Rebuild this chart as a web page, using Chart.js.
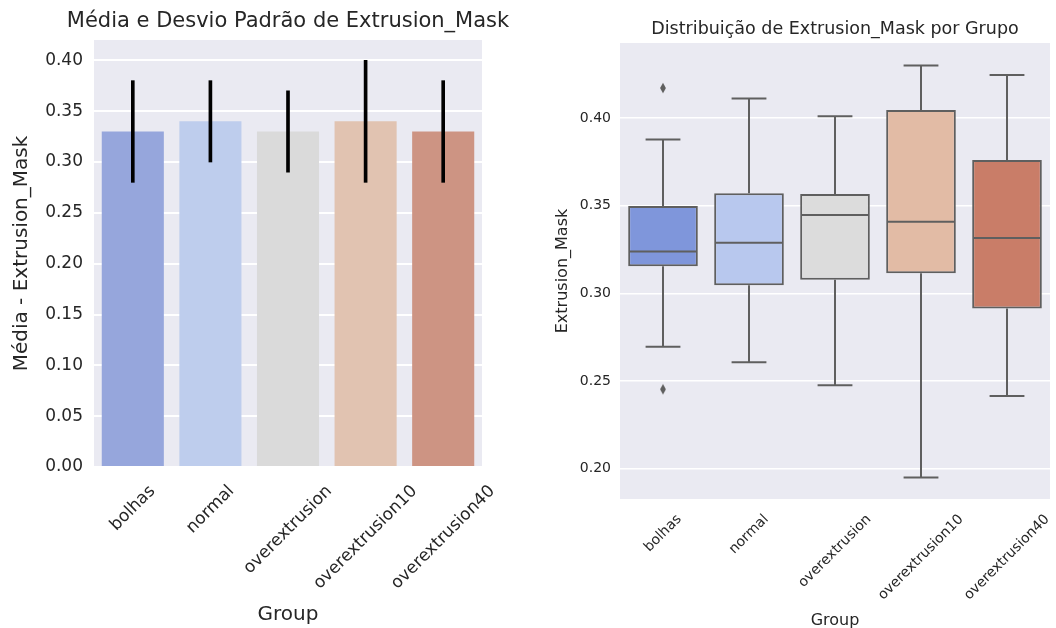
<!DOCTYPE html>
<html>
<head>
<meta charset="utf-8">
<script src="https://cdn.jsdelivr.net/npm/chart.js@4.4.1/dist/chart.umd.min.js"></script>
<style>
  html, body { margin: 0; padding: 0; background: #ffffff; }
  #wrap { position: relative; width: 1056px; height: 628px; overflow: hidden; }
  #meanChart { position: absolute; left: 0; top: 0; }
  #boxChart { position: absolute; left: 530px; top: 0; }
</style>
</head>
<body>
<div id="wrap">
  <canvas id="meanChart" width="530" height="628"></canvas>
  <canvas id="boxChart" width="526" height="628"></canvas>
</div>
<script>
// Groups shared by both panels
const groups = ['bolhas', 'normal', 'overextrusion', 'overextrusion10', 'overextrusion40'];

// Mean and standard deviation of Extrusion_Mask per group
const means = [0.33, 0.34, 0.33, 0.34, 0.33];
const stdDevs = [0.05, 0.04, 0.04, 0.06, 0.05];

// Box-plot summary per group
const whiskerLow  = [0.2695, 0.2607, 0.2476, 0.1949, 0.2415];
const quartile1   = [0.3155, 0.3046, 0.3077, 0.3115, 0.2913];
const medians     = [0.3239, 0.3289, 0.3447, 0.3409, 0.3316];
const quartile3   = [0.3498, 0.3571, 0.3567, 0.4046, 0.3760];
const whiskerHigh = [0.3878, 0.4112, 0.4010, 0.4300, 0.4245];

// Points beyond the whiskers
const outlierGroups = ['bolhas', 'bolhas'];
const outlierValues = [0.4171, 0.2453];

// Y-axis tick values
const meanTicks = [0.00, 0.05, 0.10, 0.15, 0.20, 0.25, 0.30, 0.35, 0.40];
const boxTicks = [0.20, 0.25, 0.30, 0.35, 0.40];

// Colours
const barColors = ['#96a6dc', '#becded', '#dadada', '#e1c3b1', '#cd9483'];
const boxColors = ['#7f96db', '#b8c8ee', '#dcdcdc', '#e2bba5', '#c97d68'];
const edgeColor = '#5f5f5f';
const textColor = '#262626';
const panelBg = '#eaeaf2';
const FONT = '"DejaVu Sans", "Liberation Sans", sans-serif';

Chart.defaults.font.family = FONT;
Chart.defaults.color = textColor;

// Fills the plotting area with the grey panel colour
const panelBackground = {
  id: 'panelBackground',
  beforeDraw(chart) {
    const { ctx, chartArea: a } = chart;
    ctx.save();
    ctx.fillStyle = panelBg;
    ctx.fillRect(a.left, a.top, a.right - a.left, a.bottom - a.top);
    ctx.restore();
  }
};

// Title centred over the plotting area, allowed to run wider than it
function centredTitle(text, size, y) {
  return {
    id: 'centredTitle',
    afterDraw(chart) {
      const { ctx, chartArea: a } = chart;
      ctx.save();
      ctx.font = size + 'px ' + FONT;
      ctx.fillStyle = textColor;
      ctx.textAlign = 'center';
      ctx.textBaseline = 'middle';
      ctx.fillText(text, (a.left + a.right) / 2, y);
      ctx.restore();
    }
  };
}

// Category labels rotated 45 degrees and centred under each tick
function rotatedLabels(size, gap) {
  return {
    id: 'rotatedLabels',
    afterDraw(chart) {
      const { ctx, scales: { x } } = chart;
      ctx.save();
      ctx.font = size + 'px ' + FONT;
      ctx.fillStyle = textColor;
      ctx.textAlign = 'center';
      ctx.textBaseline = 'middle';
      const h = size * 1.164;
      chart.data.labels.forEach((label, i) => {
        const w = ctx.measureText(label).width;
        const cx = x.getPixelForValue(i);
        const cy = x.top + gap + (w + h) * Math.SQRT1_2 / 2;
        ctx.save();
        ctx.translate(cx, cy);
        ctx.rotate(-Math.PI / 4);
        ctx.fillText(label, 0, 0);
        ctx.restore();
      });
      ctx.restore();
    }
  };
}

// Whiskers, caps and median lines for each box
const boxLines = {
  id: 'boxLines',
  afterDatasetsDraw(chart) {
    const { ctx, scales: { y } } = chart;
    const boxes = chart.getDatasetMeta(1).data;
    const line = (x1, y1, x2, y2) => {
      ctx.beginPath(); ctx.moveTo(x1, y1); ctx.lineTo(x2, y2); ctx.stroke();
    };
    ctx.save();
    ctx.strokeStyle = edgeColor;
    ctx.lineWidth = 2;
    boxes.forEach((bar, i) => {
      const cx = bar.x;
      const half = bar.width / 2;
      const cap = half / 2;
      const yHi = y.getPixelForValue(whiskerHigh[i]);
      const yLo = y.getPixelForValue(whiskerLow[i]);
      const yQ1 = y.getPixelForValue(quartile1[i]);
      const yQ3 = y.getPixelForValue(quartile3[i]);
      const yMed = y.getPixelForValue(medians[i]);
      line(cx, yHi, cx, yQ3);
      line(cx, yQ1, cx, yLo);
      line(cx - cap, yHi, cx + cap, yHi);
      line(cx - cap, yLo, cx + cap, yLo);
      line(cx - half + 1, yMed, cx + half - 1, yMed);
    });
    ctx.restore();
  }
};

// Thin diamond marker for outliers
function thinDiamond(color) {
  const c = document.createElement('canvas');
  c.width = 8; c.height = 12;
  const g = c.getContext('2d');
  g.fillStyle = color;
  g.beginPath();
  g.moveTo(4, 0.8); g.lineTo(6.9, 6); g.lineTo(4, 11.2); g.lineTo(1.1, 6);
  g.closePath();
  g.fill();
  return c;
}

// Left panel: mean bars with standard-deviation error bars
new Chart(document.getElementById('meanChart'), {
  type: 'bar',
  data: {
    labels: groups,
    datasets: [
      {
        label: 'Desvio Padrão',
        data: means.map((m, i) => [m - stdDevs[i], m + stdDevs[i]]),
        backgroundColor: '#000000',
        barThickness: 3,
        grouped: false,
        order: 0
      },
      {
        label: 'Média',
        data: means,
        backgroundColor: barColors,
        borderWidth: 0,
        barPercentage: 0.8,
        categoryPercentage: 1,
        grouped: false,
        order: 1
      }
    ]
  },
  options: {
    responsive: false,
    animation: false,
    events: [],
    layout: { padding: { left: 0, right: 48, top: 40, bottom: 0 } },
    plugins: {
      legend: { display: false },
      tooltip: { enabled: false },
      title: { display: false }
    },
    scales: {
      x: {
        type: 'category',
        grid: { display: false },
        border: { display: false },
        ticks: { display: false },
        title: {
          display: true,
          text: 'Group',
          color: textColor,
          font: { size: 20 },
          padding: { top: 0, bottom: 1 }
        },
        afterFit: s => { s.height = 161; }
      },
      y: {
        min: 0,
        max: 0.42,
        afterBuildTicks: s => { s.ticks = meanTicks.map(v => ({ value: v })); },
        grid: { color: '#ffffff', lineWidth: 2, drawTicks: false },
        border: { display: false },
        ticks: { padding: 11, font: { size: 17 }, color: textColor, callback: v => v.toFixed(2) },
        title: {
          display: true,
          text: 'Média - Extrusion_Mask',
          color: textColor,
          font: { size: 20 },
          padding: { top: 9.5, bottom: 0 }
        },
        afterFit: s => { s.width = 94; }
      }
    }
  },
  plugins: [
    panelBackground,
    rotatedLabels(17, 14.5),
    centredTitle('Média e Desvio Padrão de Extrusion_Mask', 21, 21.5)
  ]
});

// Right panel: box plots with outliers
new Chart(document.getElementById('boxChart'), {
  type: 'bar',
  data: {
    labels: groups,
    datasets: [
      {
        type: 'scatter',
        label: 'Outliers',
        data: outlierGroups.map((g, i) => ({ x: g, y: outlierValues[i] })),
        pointStyle: thinDiamond(edgeColor),
        pointRadius: 5,
        order: 0
      },
      {
        label: 'Extrusion_Mask',
        data: quartile1.map((q, i) => [q, quartile3[i]]),
        backgroundColor: boxColors,
        borderColor: edgeColor,
        borderWidth: 2,
        borderSkipped: false,
        barPercentage: 0.81,
        categoryPercentage: 1,
        grouped: false,
        order: 1
      }
    ]
  },
  options: {
    responsive: false,
    animation: false,
    events: [],
    layout: { padding: { left: 0, right: 4, top: 0, bottom: 0 } },
    plugins: {
      legend: { display: false },
      tooltip: { enabled: false },
      title: {
        display: true,
        fullSize: false,
        text: 'Distribuição de Extrusion_Mask por Grupo',
        color: textColor,
        font: { size: 17.5, weight: 'normal' },
        padding: { top: 19, bottom: 3 }
      }
    },
    scales: {
      x: {
        type: 'category',
        grid: { display: false },
        border: { display: false },
        ticks: { display: false },
        title: {
          display: true,
          text: 'Group',
          color: textColor,
          font: { size: 16 },
          padding: { top: 0, bottom: -2 }
        },
        afterFit: s => { s.height = 129; }
      },
      y: {
        min: 0.1827,
        max: 0.4428,
        afterBuildTicks: s => { s.ticks = boxTicks.map(v => ({ value: v })); },
        grid: { color: '#ffffff', lineWidth: 1.5, drawTicks: false },
        border: { display: false },
        ticks: { padding: 9, font: { size: 14 }, color: textColor, callback: v => v.toFixed(2) },
        title: {
          display: true,
          text: 'Extrusion_Mask',
          color: textColor,
          font: { size: 16 },
          padding: { top: 23.4, bottom: 0 }
        },
        afterFit: s => { s.width = 90; }
      }
    }
  },
  plugins: [panelBackground, boxLines, rotatedLabels(14, 12.3)]
});
</script>
</body>
</html>
